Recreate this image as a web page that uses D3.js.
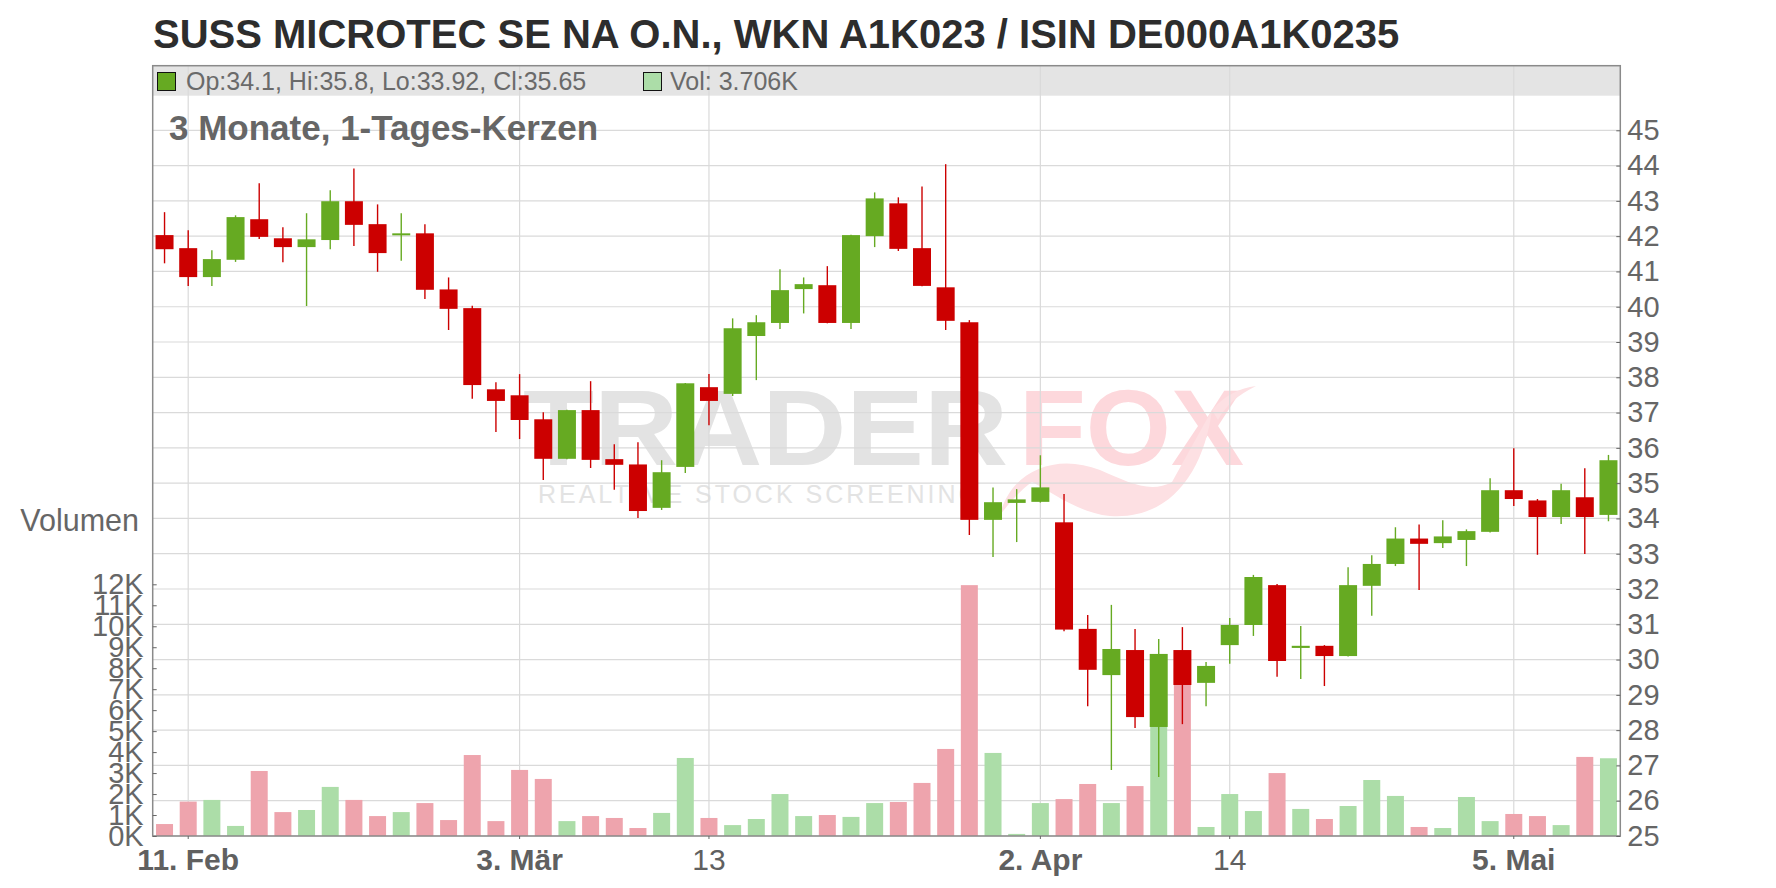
<!DOCTYPE html>
<html><head><meta charset="utf-8">
<script src="https://cdn.jsdelivr.net/npm/d3@7"></script>
<style>
body{margin:0;background:#fff}
svg{display:block}
text{font-family:"Liberation Sans",Arial,Helvetica,sans-serif}
</style>
</head><body>
<svg id="c" width="1776" height="888"></svg>
<script>
// ---- data ----
const dates = [
 "2025-02-10","2025-02-11","2025-02-12","2025-02-13","2025-02-14",
 "2025-02-17","2025-02-18","2025-02-19","2025-02-20","2025-02-21",
 "2025-02-24","2025-02-25","2025-02-26","2025-02-27","2025-02-28",
 "2025-03-03","2025-03-04","2025-03-05","2025-03-06","2025-03-07",
 "2025-03-10","2025-03-11","2025-03-12","2025-03-13","2025-03-14",
 "2025-03-17","2025-03-18","2025-03-19","2025-03-20","2025-03-21",
 "2025-03-24","2025-03-25","2025-03-26","2025-03-27","2025-03-28",
 "2025-03-31","2025-04-01","2025-04-02","2025-04-03","2025-04-04",
 "2025-04-07","2025-04-08","2025-04-09","2025-04-10","2025-04-11",
 "2025-04-14","2025-04-15","2025-04-16","2025-04-17",
 "2025-04-22","2025-04-23","2025-04-24","2025-04-25",
 "2025-04-28","2025-04-29","2025-04-30","2025-05-02",
 "2025-05-05","2025-05-06","2025-05-07","2025-05-08","2025-05-09"
];
const openVals = [42.03,41.66,40.84,41.33,42.48,41.94,41.69,41.89,42.99,42.34,
 42.03,42.08,40.49,39.96,37.66,37.49,36.81,35.69,37.07,35.68,
 35.53,34.3,35.46,37.72,37.53,39.17,39.54,40.5,40.61,39.54,
 42.0,42.93,41.66,40.55,39.56,33.96,34.44,34.47,33.89,30.87,
 29.56,30.27,28.09,30.27,29.34,30.41,30.98,32.11,30.33,30.39,
 30.1,32.09,32.71,33.43,33.3,33.39,33.62,34.8,34.51,34.04,34.6,34.1];
const highVals = [42.68,42.17,41.6,42.59,43.5,42.25,42.65,43.3,43.92,42.9,
 42.65,42.34,40.83,40.03,37.86,38.09,37.01,37.08,37.89,36.1,
 36.16,35.65,37.84,38.09,39.67,39.76,41.06,40.83,41.15,42.04,
 43.24,43.1,43.41,44.04,39.62,34.88,34.83,35.79,34.69,31.26,
 31.55,30.87,30.58,30.92,29.93,31.18,32.4,32.14,30.95,30.41,
 32.62,32.96,33.75,33.83,33.95,33.69,35.14,35.99,34.55,34.98,35.42,35.8];
const lowVals = [41.23,40.59,40.59,41.27,41.92,41.26,40.02,41.63,41.72,40.99,
 41.3,40.22,39.34,37.39,36.45,36.25,35.09,35.68,35.43,34.81,
 34.01,34.24,35.29,36.64,37.47,37.92,39.37,39.81,39.53,39.37,
 41.69,41.58,40.58,39.34,33.53,32.91,33.33,34.45,30.8,28.68,
 26.87,28.06,26.67,28.17,28.68,29.88,30.67,29.51,29.45,29.25,
 30.09,31.24,32.65,31.97,33.16,32.65,33.6,34.35,32.97,33.84,32.99,33.92];
const closeVals = [41.63,40.84,41.35,42.54,41.98,41.69,41.91,42.99,42.32,41.52,
 42.08,40.48,39.94,37.78,37.33,36.79,35.69,37.07,35.66,35.52,
 34.21,35.31,37.83,37.33,39.39,39.56,40.47,40.64,39.54,42.03,
 43.07,41.64,40.59,39.6,33.96,34.46,34.54,34.88,30.85,29.71,
 30.3,28.37,30.16,29.28,29.82,30.98,32.34,29.96,30.39,30.1,
 32.11,32.71,33.43,33.28,33.49,33.64,34.8,34.55,34.04,34.8,34.04,35.65];
// volume in thousands
const volumeK = [0.57,1.64,1.72,0.48,3.1,1.14,1.24,2.34,1.72,0.95,
 1.14,1.57,0.76,3.86,0.71,3.15,2.72,0.71,0.95,0.86,
 0.38,1.1,3.72,0.86,0.52,0.81,2.0,0.95,1.0,0.91,
 1.57,1.62,2.53,4.15,11.96,3.96,0.1,1.57,1.76,2.48,
 1.57,2.38,6.5,8.0,0.43,2.0,1.19,3.0,1.29,0.81,
 1.43,2.67,1.91,0.43,0.38,1.86,0.71,1.05,0.95,0.52,3.77,3.706];
const priceTicks = [25,26,27,28,29,30,31,32,33,34,35,36,37,38,39,40,41,42,43,44,45];
const volumeTicks = [0,1,2,3,4,5,6,7,8,9,10,11,12];
const xTickDates = ["2025-02-11","2025-03-03","2025-03-13","2025-04-02","2025-04-14","2025-05-05"];
const xTickLabels = ["11. Feb","3. Mär","13","2. Apr","14","5. Mai"];
const xTickBold = [true,true,false,true,false,true];
const titleText = "SUSS MICROTEC SE NA O.N., WKN A1K023 / ISIN DE000A1K0235";
const subtitleText = "3 Monate, 1-Tages-Kerzen";
const legendText = "Op:34.1, Hi:35.8, Lo:33.92, Cl:35.65";
const legendVolText = "Vol: 3.706K";

// ---- layout ----
const L = 152.7, R = 1620.3, T = 65.7, HB = 95.7, B = 836;
const UP = "#66aa22", DOWN = "#cc0000", UPV = "#acdda8", DOWNV = "#eea4ad";
const GRID = "#dadada", AX = "#666";

const data = dates.map((d,i)=>({d, o:openVals[i], h:highVals[i], l:lowVals[i], c:closeVals[i], v:volumeK[i]}));

const svg = d3.select("#c");
const x = d3.scaleBand().domain(dates).range([L,R]).paddingInner(0.24).paddingOuter(0.12);
const y = d3.scaleLinear().domain([25,45]).range([B,130.3]);
const yv = d3.scaleLinear().domain([0,12]).range([B,584.3]);
const cx = d => x(d) + x.bandwidth()/2;

// title
svg.append("text").attr("x",153).attr("y",47.5).attr("font-size",40).attr("font-weight","bold")
  .attr("fill","#2d2d2d").text(titleText);

// header band
svg.append("rect").attr("x",L).attr("y",T).attr("width",R-L).attr("height",HB-T).attr("fill","#e4e4e4");

// watermark
const wm = svg.append("g");
wm.append("text").attr("x",523).attr("y",465).attr("font-size",108).attr("font-weight","bold")
  .attr("fill","#e3e3e3").attr("textLength",485).attr("lengthAdjust","spacingAndGlyphs").text("TRADER");
wm.append("text").attr("x",1019).attr("y",465).attr("font-size",108).attr("font-weight","bold")
  .attr("fill","#fdd8dc").attr("textLength",225).attr("lengthAdjust","spacingAndGlyphs").text("FOX");
wm.append("path").attr("fill","#fde0e3")
  .attr("d","M1000,515 C1010,472 1055,452 1100,470 C1128,482 1150,494 1172,482 L1212,410 C1204,470 1172,520 1110,516 C1078,513 1052,492 1032,482 C1018,492 1008,505 1000,515 Z M1212,410 C1225,395 1240,388 1256,386 C1238,395 1226,405 1218,420 Z");
wm.append("text").attr("x",538).attr("y",503).attr("font-size",25).attr("fill","#e3e3e3")
  .attr("textLength",440).attr("lengthAdjust","spacing").text("REALTIME STOCK SCREENING");

// grid
const grid = svg.append("g").attr("stroke",GRID).attr("stroke-width",1.2);
grid.selectAll("line.h").data(priceTicks).join("line").attr("class","h")
  .attr("x1",L).attr("x2",R).attr("y1",d=>y(d)).attr("y2",d=>y(d));
grid.selectAll("line.v").data(xTickDates).join("line").attr("class","v")
  .attr("x1",d=>cx(d)).attr("x2",d=>cx(d)).attr("y1",T).attr("y2",B);

// legend in header
svg.append("rect").attr("x",157.5).attr("y",72.5).attr("width",18).attr("height",18)
  .attr("fill",UP).attr("stroke","#111").attr("stroke-width",1);
svg.append("text").attr("x",186).attr("y",90).attr("font-size",25).attr("fill","#6a6a6a").text(legendText);
svg.append("rect").attr("x",643.5).attr("y",72.5).attr("width",18).attr("height",18)
  .attr("fill",UPV).attr("stroke","#111").attr("stroke-width",1);
svg.append("text").attr("x",670).attr("y",90).attr("font-size",25).attr("fill","#6a6a6a").text(legendVolText);

// subtitle
svg.append("text").attr("x",169).attr("y",140).attr("font-size",35).attr("font-weight","bold")
  .attr("fill","#666").text(subtitleText);

// volume bars
const vw = x.bandwidth()-1;
svg.append("g").selectAll("rect").data(data).join("rect")
  .attr("x",d=>cx(d.d)-vw/2).attr("width",vw)
  .attr("y",d=>yv(d.v)).attr("height",d=>B-yv(d.v))
  .attr("fill",d=>d.c>=d.o?UPV:DOWNV);

// candles
const cg = svg.append("g");
cg.selectAll("line").data(data).join("line")
  .attr("x1",d=>cx(d.d)).attr("x2",d=>cx(d.d))
  .attr("y1",d=>y(d.h)).attr("y2",d=>y(d.l))
  .attr("stroke",d=>d.c>=d.o?UP:DOWN).attr("stroke-width",1.4);
const bw = x.bandwidth();
cg.selectAll("rect").data(data).join("rect")
  .attr("x",d=>cx(d.d)-bw/2).attr("width",bw)
  .attr("y",d=>y(Math.max(d.o,d.c)))
  .attr("height",d=>Math.max(2,Math.abs(y(d.o)-y(d.c))))
  .attr("fill",d=>d.c>=d.o?UP:DOWN);

// frame
svg.append("rect").attr("x",L).attr("y",T).attr("width",R-L).attr("height",B-T)
  .attr("fill","none").attr("stroke","#8a8a8a").attr("stroke-width",1.5);

// price axis (right)
const pa = svg.append("g").attr("transform",`translate(${R},0)`)
  .call(d3.axisRight(y).tickValues(priceTicks).tickSizeInner(-4).tickSizeOuter(0).tickPadding(7).tickFormat(d3.format("d")));
pa.select(".domain").remove();
pa.selectAll("line").attr("stroke",AX);
pa.selectAll("text").attr("font-size",29).attr("fill",AX).attr("font-family","'Liberation Sans',Arial,sans-serif");

// volume axis (left)
const va = svg.append("g").attr("transform",`translate(${L},0)`)
  .call(d3.axisLeft(yv).tickValues(volumeTicks).tickSizeInner(-4).tickSizeOuter(0).tickPadding(9).tickFormat(d=>d+"K"));
va.select(".domain").remove();
va.selectAll("line").attr("stroke",AX);
va.selectAll("text").attr("font-size",29).attr("fill",AX).attr("font-family","'Liberation Sans',Arial,sans-serif");

// x axis
const xa = svg.append("g").attr("transform",`translate(0,${B})`)
  .call(d3.axisBottom(x).tickValues(xTickDates).tickSizeInner(3).tickSizeOuter(0).tickPadding(10)
    .tickFormat((d,i)=>xTickLabels[i]));
xa.select(".domain").remove();
xa.selectAll("line").attr("stroke",AX);
xa.selectAll("text").attr("font-size",30).attr("fill","#606060").attr("font-family","'Liberation Sans',Arial,sans-serif")
  .attr("font-weight",(d,i)=>xTickBold[i]?"bold":"normal");

// "Volumen" label
svg.append("text").attr("x",139).attr("y",531).attr("text-anchor","end").attr("font-size",30.5)
  .attr("fill","#666").text("Volumen");
</script>
</body></html>
